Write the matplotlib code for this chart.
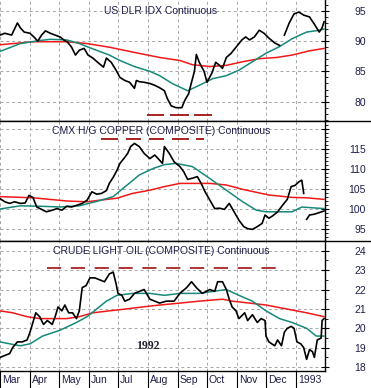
import numpy as np
import matplotlib.pyplot as plt
import matplotlib.dates as mdates
import matplotlib.transforms as mtransforms
from matplotlib.lines import Line2D
from matplotlib.ticker import MultipleLocator, FixedLocator, FuncFormatter

# Data (days counted from 1992-03-01)
start = np.datetime64('1992-03-01')
end = np.datetime64('1993-01-31')

dlr_days = [0, 5, 12, 18, 21, 25, 31, 35, 39, 43, 47, 52, 57, 62, 66, 70, 74, 78, 82, 87,
            91, 96, 101, 107, 110, 115, 120, 124, 129, 134, 139, 141, 144, 149, 155, 160, 165, 170, 173, 177,
            182, 188, 191, 195, 198, 201, 203, 206, 211, 214, 219, 223, 227, 230, 234, 239, 244, 250, 254, 258,
            263, 268, 273, 278, 284, 289, 291, 294, 299, 304, 309, 314, 320, 325, 330, 333, 335]
dlr_close = [91.0, 91.3, 91.0, 93.0, 92.2, 91.5, 91.3, 90.7, 90.0, 91.0, 91.7, 91.3, 91.0, 90.7, 90.2, 89.8, 89.0, 87.7, 88.5, 88.8,
             87.7, 87.2, 86.5, 85.7, 87.2, 86.5, 85.2, 84.0, 83.5, 83.2, 82.2, 83.5, 83.3, 83.2, 83.0, 82.7, 82.3, 81.8, 80.5, 79.3,
             79.0, 79.0, 80.2, 81.3, 83.2, 85.0, 87.8, 86.5, 85.0, 83.2, 84.7, 86.5, 86.0, 85.5, 87.3, 88.0, 89.0, 90.2, 90.7, 90.2,
             90.7, 91.8, 91.3, 90.5, 89.7, 89.3, np.nan, 91.0, 93.0, 94.5, 94.8, 94.3, 94.0, 92.8, 91.5, 92.2, 93.2]
dlr_ma1_days = [0, 21, 41, 52, 69, 82, 93, 113, 124, 139, 155, 165, 178, 194, 206, 220, 234, 247, 261, 275, 289, 302, 317, 330, 335]
dlr_ma1 = [88.3, 89.6, 90.1, 90.3, 90.2, 89.6, 88.9, 87.7, 86.8, 85.8, 85.0, 84.3, 83.0, 81.8, 82.7, 83.8, 84.3, 85.2, 86.6, 88.0,
           89.1, 90.4, 91.5, 91.8, 92.0]
dlr_ma2_days = [0, 34, 69, 90, 113, 137, 165, 186, 199, 217, 234, 251, 268, 286, 302, 320, 335]
dlr_ma2 = [89.4, 89.9, 89.9, 89.6, 89.0, 88.2, 87.3, 86.8, 86.1, 85.8, 86.0, 86.6, 87.1, 87.3, 87.7, 88.4, 88.8]
dlr_marks = [(152, 170), (176, 195), (201, 219)]
dlr_mark_level = 77.8

cu_days = [0, 5, 10, 15, 21, 26, 30, 34, 38, 43, 48, 54, 59, 64, 69, 74, 79, 85, 90, 95,
           100, 105, 110, 113, 117, 121, 124, 128, 132, 135, 139, 144, 149, 155, 160, 165, 168, 170, 175, 180,
           186, 190, 194, 199, 204, 208, 212, 217, 222, 227, 232, 237, 242, 247, 252, 256, 261, 266, 271, 274,
           278, 282, 287, 292, 297, 301, 305, 309, 312, 314, 315, 317, 320, 325, 330, 335]
cu_close = [102.7, 101.9, 101.5, 101.9, 101.5, 101.6, 103.5, 103.0, 100.6, 100.0, 99.4, 99.8, 100.2, 99.8, 100.8, 100.6, 101.0, 101.5, 102.3, 104.4,
            103.8, 104.0, 104.7, 106.5, 108.0, 109.8, 111.5, 112.7, 114.0, 115.7, 116.5, 115.7, 114.0, 112.7, 113.6, 112.3, 111.5, 115.7, 114.0, 111.9,
            110.7, 109.4, 107.5, 107.8, 108.2, 106.5, 104.4, 102.3, 100.2, 100.3, 100.0, 101.5, 99.4, 97.3, 95.7, 95.2, 95.0, 95.7, 96.5, 98.6,
            97.8, 98.4, 99.4, 101.0, 102.5, 105.7, 106.0, 106.9, 107.3, 104.0, np.nan, 97.5, 98.6, 98.8, 99.2, 99.6]
cu_ma1_days = [0, 21, 41, 62, 82, 103, 117, 131, 144, 158, 170, 182, 199, 217, 234, 251, 265, 275, 302, 312, 323, 335]
cu_ma1 = [100.1, 100.9, 100.8, 100.6, 100.9, 102.2, 103.2, 106.0, 108.6, 110.2, 111.2, 111.5, 110.7, 107.7, 104.8, 101.9, 99.8, 99.4,
          99.4, 100.6, 100.4, 100.2]
cu_ma2_days = [0, 34, 69, 90, 103, 121, 137, 155, 170, 186, 217, 234, 251, 278, 302, 317, 335]
cu_ma2 = [103.2, 102.9, 102.1, 101.9, 102.3, 102.8, 104.0, 104.8, 105.7, 106.5, 106.5, 106.1, 105.0, 103.6, 103.0, 102.9, 102.5]
cu_marks = [(104, 122), (130, 146), (154, 170), (178, 195), (203, 211)]
cu_mark_level = 117.6

oil_days = [0, 5, 10, 13, 18, 23, 28, 31, 34, 37, 41, 45, 49, 54, 57, 60, 64, 67, 71, 75,
            79, 82, 85, 89, 93, 98, 103, 108, 113, 117, 120, 122, 126, 129, 134, 139, 144, 149, 155, 160,
            165, 172, 180, 186, 193, 198, 203, 209, 217, 222, 225, 230, 234, 237, 240, 244, 247, 253, 256, 261,
            266, 270, 274, 275, 278, 284, 287, 291, 294, 297, 301, 304, 307, 311, 314, 317, 320, 323, 325, 328,
            332, 333, 335]
oil_close = [18.5, 18.6, 18.7, 19.0, 19.3, 19.3, 19.4, 19.8, 20.3, 20.8, 20.6, 20.2, 20.4, 20.2, 20.6, 21.1, 20.9, 21.2, 20.8, 20.8,
             20.5, 20.9, 22.1, 22.2, 22.6, 22.6, 22.5, 22.4, 22.8, 22.9, 22.3, 21.8, 21.7, 21.4, 21.5, 21.8, 21.9, 22.0, 21.5, 21.4,
             21.3, 21.4, 21.4, 21.8, 22.1, 22.4, 22.1, 21.8, 22.0, 21.9, 22.4, 22.4, 22.0, 21.5, 21.1, 20.9, 20.5, 20.8, 20.4, 20.7,
             20.3, 20.5, 20.4, 19.6, 19.3, 19.1, 19.4, 19.1, 19.8, 20.0, 20.1, 20.0, 19.3, 19.2, 19.0, 18.4, 18.9, 18.8, 18.5, 19.4,
             19.5, 20.4, 20.5]
oil_ma1_days = [0, 10, 21, 31, 44, 62, 79, 90, 100, 110, 121, 137, 155, 170, 186, 206, 220, 234, 247, 261, 275, 289, 302, 317, 327, 335]
oil_ma1 = [19.3, 19.2, 19.1, 19.2, 19.6, 19.9, 20.3, 20.6, 21.0, 21.4, 21.7, 21.8, 21.8, 21.7, 21.8, 21.8, 21.9, 22.0, 21.7, 21.4,
           20.9, 20.5, 20.3, 20.0, 19.6, 19.6]
oil_ma2_days = [0, 13, 28, 41, 55, 69, 82, 96, 113, 131, 147, 165, 186, 206, 230, 240, 258, 275, 296, 317, 335]
oil_ma2 = [20.9, 20.8, 20.6, 20.5, 20.5, 20.5, 20.6, 20.8, 20.9, 21.0, 21.1, 21.2, 21.3, 21.4, 21.5, 21.4, 21.3, 21.2, 21.0, 20.8, 20.6]
oil_mark_span = (49, 289)
oil_mark_level = 23.1

month_labels = ['Mar', 'Apr', 'May', 'Jun', 'Jul', 'Aug', 'Sep', 'Oct', 'Nov', 'Dec', '1993']


def to_dates(days):
    return start + np.array(days, dtype='timedelta64[D]')


# Styles
price_color = 'black'
fast_color = '#17897a'
slow_color = '#f01818'
mark_color = '#a01212'
text_color = '#1e1e4a'
grid_color = '#a6a6a6'
font = 'Liberation Sans'

plt.rcParams['font.family'] = font

W, H = 371, 388
fig = plt.figure(figsize=(W / 100, H / 100), dpi=100)
right = 325 / W
ax1 = fig.add_axes([0, 1 - 121 / H, right, 121 / H])
ax2 = fig.add_axes([0, 1 - 241 / H, right, 120 / H])
ax3 = fig.add_axes([0, 1 - 371 / H, right, 130 / H])


def style_panel(ax, ylim, ticks, minor, hide=()):
    ax.set_xlim(start, end)
    ax.set_ylim(*ylim)
    ax.yaxis.tick_right()
    ax.yaxis.set_major_locator(FixedLocator(ticks))
    ax.yaxis.set_minor_locator(MultipleLocator(minor))
    ax.yaxis.set_major_formatter(FuncFormatter(lambda v, p: '' if v in hide else f'{v:g}'))
    ax.xaxis.set_major_locator(mdates.MonthLocator())
    ax.grid(True, which='major', color=grid_color, linestyle=(0, (3, 3)), linewidth=0.7)
    ax.set_axisbelow(True)
    for side in ['left', 'top']:
        ax.spines[side].set_visible(False)
    ax.spines['right'].set_linewidth(1.0)
    ax.spines['bottom'].set_linewidth(1.0)
    ax.tick_params(axis='y', which='major', direction='inout', length=6, width=0.8,
                   pad=26.5, labelsize=7.5, labelcolor=text_color)
    ax.tick_params(axis='y', which='minor', direction='out', length=2.5, width=0.6)
    for lab in ax.get_yticklabels():
        lab.set_horizontalalignment('right')
    ax.tick_params(axis='x', length=0, labelbottom=False)


def draw_series(ax, days, close, ma1_days, ma1, ma2_days, ma2):
    ax.plot(to_dates(ma2_days), ma2, color=slow_color, lw=1.1, zorder=3)
    ax.plot(to_dates(ma1_days), ma1, color=fast_color, lw=1.1, zorder=3)
    ax.plot(to_dates(days), close, color=price_color, lw=1.2, zorder=4)


# Panel 1: US dollar index
draw_series(ax1, dlr_days, dlr_close, dlr_ma1_days, dlr_ma1, dlr_ma2_days, dlr_ma2)
for a, b in dlr_marks:
    ax1.hlines(dlr_mark_level, to_dates([a])[0], to_dates([b])[0], color=mark_color, lw=1.3)
style_panel(ax1, (76.8, 96.8), [80, 85, 90, 95], 1)
ax1.text(0.495, 0.909, 'US DLR IDX Continuous', transform=ax1.transAxes,
         ha='center', va='center', fontsize=7.5, color=text_color)

# Panel 2: copper
draw_series(ax2, cu_days, cu_close, cu_ma1_days, cu_ma1, cu_ma2_days, cu_ma2)
for a, b in cu_marks:
    ax2.hlines(cu_mark_level, to_dates([a])[0], to_dates([b])[0], color=mark_color, lw=1.3)
style_panel(ax2, (92.1, 122.1), [95, 100, 105, 110, 115, 120], 1, hide=(120,))
ax2.text(0.497, 0.917, 'CMX H/G COPPER (COMPOSITE) Continuous', transform=ax2.transAxes,
         ha='center', va='center', fontsize=7.5, color=text_color)

# Panel 3: crude oil
draw_series(ax3, oil_days, oil_close, oil_ma1_days, oil_ma1, oil_ma2_days, oil_ma2)
ax3.hlines(oil_mark_level, to_dates([oil_mark_span[0]])[0], to_dates([oil_mark_span[1]])[0],
           color=mark_color, lw=1.2, linestyles=(0, (8.5, 5.8)))
style_panel(ax3, (17.8, 24.5), [18, 19, 20, 21, 22, 23, 24], 0.5)
ax3.text(0.495, 0.923, 'CRUDE LIGHT OIL (COMPOSITE) Continuous', transform=ax3.transAxes,
         ha='center', va='center', fontsize=7.5, color=text_color)
ax3.text(0.455, 0.19, '1992', transform=ax3.transAxes, ha='center', va='center',
         fontsize=8.5, fontweight='bold', family='Liberation Serif', color='#202030')

# Month axis
ax3.tick_params(axis='x', length=12, width=0.8, direction='out', labelbottom=True,
                pad=-8.8, labelsize=7.5, labelcolor=text_color)
ax3.xaxis.set_major_formatter(FuncFormatter(
    lambda v, p: month_labels[p] if p is not None and p < len(month_labels) else ''))
fig.canvas.draw()
shift = mtransforms.ScaledTranslation(2 / 100, 0, fig.dpi_scale_trans)
for lab in ax3.get_xticklabels():
    lab.set_horizontalalignment('left')
    lab.set_transform(lab.get_transform() + shift)

# Panel dividers running across the full width
for yy in [121, 241]:
    fig.add_artist(Line2D([0, 1], [1 - yy / H, 1 - yy / H], color='black', lw=1.0))

fig.savefig('out.png', dpi=100)
